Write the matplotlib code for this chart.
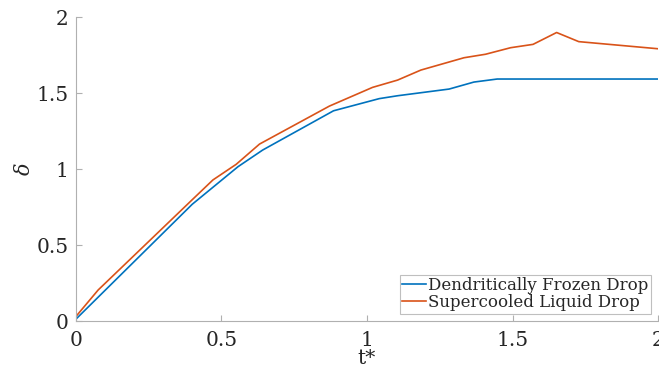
import matplotlib
matplotlib.use("Agg")
import matplotlib.pyplot as plt

x_frozen = [0.0, 0.40, 0.557, 0.642, 0.885, 1.042, 1.105, 1.282, 1.367, 1.447, 2.0]
y_frozen = [0.013, 0.77, 1.017, 1.127, 1.385, 1.465, 1.484, 1.528, 1.574, 1.594, 1.594]

x_super = [0.0, 0.077, 0.40, 0.471, 0.551, 0.631, 0.871, 1.019, 1.105, 1.185, 1.333, 1.407, 1.493, 1.570, 1.651, 1.727, 2.0]
y_super = [0.03, 0.206, 0.80, 0.93, 1.033, 1.166, 1.416, 1.539, 1.587, 1.653, 1.734, 1.757, 1.80, 1.822, 1.90, 1.84, 1.793]

labels = ["Dendritically Frozen Drop", "Supercooled Liquid Drop"]
xticks = [0, 0.5, 1, 1.5, 2]
yticks = [0, 0.5, 1, 1.5, 2]
xticklabels = ["0", "0.5", "1", "1.5", "2"]
yticklabels = ["0", "0.5", "1", "1.5", "2"]

plt.rcParams['font.family'] = ['DejaVu Serif']
plt.rcParams['mathtext.fontset'] = 'dejavuserif'
txt = '#262626'
fig = plt.figure(figsize=(6.59, 3.70), dpi=100)
ax = fig.add_axes([0.1149, 0.1316, 0.884, 0.8216])
ax.plot(x_frozen, y_frozen, color='#0072BD', lw=1.2, label=labels[0])
ax.plot(x_super, y_super, color='#D95319', lw=1.2, label=labels[1])
ax.set_xlim(0, 2)
ax.set_ylim(0, 2)
ax.set_xticks(xticks)
ax.set_xticklabels(xticklabels)
ax.set_yticks(yticks)
ax.set_yticklabels(yticklabels)
for s in ['top', 'right']:
    ax.spines[s].set_visible(False)
for s in ['left', 'bottom']:
    ax.spines[s].set_color('#b0b0b0')
    ax.spines[s].set_linewidth(0.8)
ax.tick_params(direction='in', length=4, width=0.8, color='#b0b0b0',
               labelsize=14.5, labelcolor=txt)
ax.tick_params(axis='x', pad=7)
ax.tick_params(axis='y', pad=5)
ax.set_xlabel('t*', fontsize=14.5, color=txt, va='center')
ax.xaxis.set_label_coords(0.5, -0.123)
ax.set_ylabel(r'$\delta$', fontsize=15, color=txt, rotation=90, va='center')
ax.yaxis.set_label_coords(-0.088, 0.5)
leg = ax.legend(loc='lower right', fontsize=12.0, frameon=True, fancybox=False,
                edgecolor='#b0b0b0', handlelength=1.45, handletextpad=0.1,
                borderpad=0.15, labelspacing=0.0, borderaxespad=0.45)
leg.get_frame().set_linewidth(0.8)
for t in leg.get_texts():
    t.set_color(txt)
fig.savefig('out.png', dpi=100)
